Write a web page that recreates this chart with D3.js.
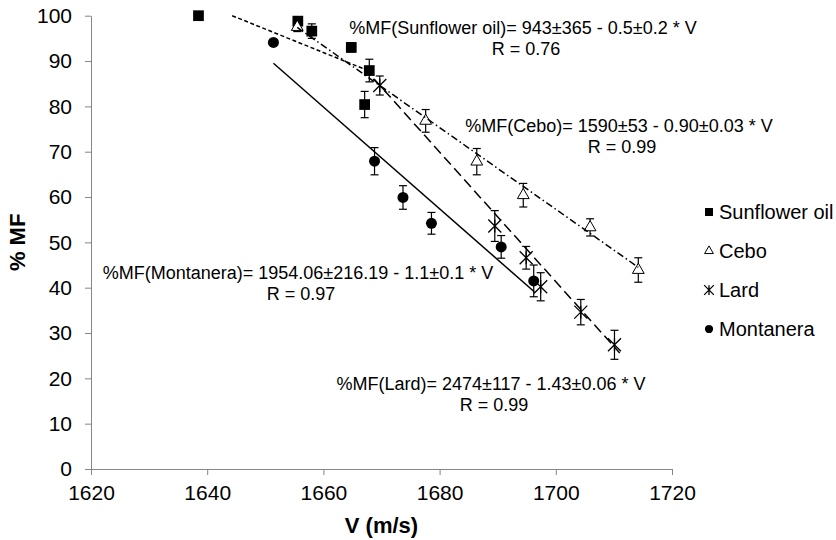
<!doctype html>
<html>
  <head>
    <script src="https://cdnjs.cloudflare.com/ajax/libs/d3/7.8.5/d3.min.js"></script>
    <style>
      body { margin: 0; background: #fff; }
      text { font-family: Arial, "Liberation Sans", sans-serif; fill: #000; }
      .axis path, .axis line { stroke: #868686; stroke-width: 1px; }
      .axis text { font-size: 21px; }
      .note { font-size: 18px; text-anchor: middle; }
      .legend text { font-size: 20px; }
      .title { font-size: 22px; font-weight: bold; text-anchor: middle; }
    </style>
  </head>
  <body>
    <svg width="836" height="540"></svg>
    <script>
      // values
      var seriesNames = ["Sunflower oil", "Cebo", "Lard", "Montanera"];

      var sunflowerV   = [1638.5, 1655.6, 1658.0, 1664.8, 1667.9, 1667.1];
      var sunflowerMF  = [100.0, 98.8, 96.6, 93.0, 87.9, 80.4];
      var sunflowerErr = [0, 1.0, 1.6, 1.0, 2.5, 2.9];

      var ceboV   = [1655.5, 1677.6, 1686.4, 1694.4, 1705.9, 1714.2];
      var ceboMF  = [97.5, 76.8, 67.8, 60.4, 53.3, 43.9];
      var ceboErr = [1.0, 2.5, 2.9, 2.6, 1.9, 2.7];

      var lardV   = [1669.7, 1689.5, 1694.9, 1697.4, 1704.3, 1710.1];
      var lardMF  = [84.6, 53.6, 46.6, 40.2, 34.6, 27.4];
      var lardErr = [2.1, 3.4, 2.5, 3.1, 2.8, 3.2];

      var montaneraV   = [1651.4, 1668.8, 1673.7, 1678.6, 1690.6, 1696.2];
      var montaneraMF  = [94.1, 67.9, 59.9, 54.2, 49.0, 41.5];
      var montaneraErr = [0, 3.0, 2.6, 2.4, 2.5, 3.5];

      // trend line end points [V, MF]
      var sunflowerFit = [[1644.3, 100.0], [1667.5, 88.0]];
      var ceboFit      = [[1655.5, 97.4], [1714.2, 44.5]];
      var lardFit      = [[1667.0, 88.5], [1711.0, 25.6]];
      var montaneraFit = [[1651.4, 89.5], [1696.3, 39.1]];

      var xTicks = [1620, 1640, 1660, 1680, 1700, 1720];
      var yTicks = [0, 10, 20, 30, 40, 50, 60, 70, 80, 90, 100];

      var noteLines = [
        ["%MF(Sunflower oil)= 943±365 - 0.5±0.2 * V", "R = 0.76"],
        ["%MF(Cebo)= 1590±53 - 0.90±0.03 * V", "R = 0.99"],
        ["%MF(Lard)= 2474±117 - 1.43±0.06 * V", "R = 0.99"],
        ["%MF(Montanera)= 1954.06±216.19 - 1.1±0.1 * V", "R = 0.97"]
      ];
      var notePos = [[523, 34], [619, 132], [491, 390], [298, 279]];

      var svg = d3.select("svg");

      var x = d3.scaleLinear().domain([1620, 1720]).range([91, 672]);
      var y = d3.scaleLinear().domain([0, 100]).range([469, 15.7]);

      svg.append("g")
        .attr("class", "axis")
        .attr("transform", "translate(0," + y(0) + ")")
        .call(d3.axisBottom(x).tickValues(xTicks).tickFormat(d3.format("d"))
          .tickSize(6).tickSizeOuter(0).tickPadding(10));

      svg.append("g")
        .attr("class", "axis")
        .attr("transform", "translate(" + x(1620) + ",0)")
        .call(d3.axisLeft(y).tickValues(yTicks).tickFormat(d3.format("d"))
          .tickSize(6).tickSizeOuter(0).tickPadding(13));

      svg.append("text").attr("class", "title")
        .attr("x", (x(1620) + x(1720)) / 2).attr("y", 533)
        .text("V (m/s)");

      svg.append("text").attr("class", "title")
        .attr("transform", "translate(25," + (y(0) + y(100)) / 2 + ") rotate(-90)")
        .text("% MF");

      var series = [
        { v: sunflowerV, mf: sunflowerMF, err: sunflowerErr, fit: sunflowerFit, dash: "4,2.5", mark: "square" },
        { v: ceboV, mf: ceboMF, err: ceboErr, fit: ceboFit, dash: "7,3,1.5,3", mark: "triangle" },
        { v: lardV, mf: lardMF, err: lardErr, fit: lardFit, dash: "10,5", mark: "star" },
        { v: montaneraV, mf: montaneraMF, err: montaneraErr, fit: montaneraFit, dash: null, mark: "circle" }
      ];

      function markPath(kind, s) {
        if (kind === "square") return d3.symbol(d3.symbolSquare, 115 * s * s)();
        if (kind === "circle") return d3.symbol(d3.symbolCircle, 95 * s * s)();
        if (kind === "triangle") return d3.symbol(d3.symbolTriangle, 60 * s * s)();
        var r = 6.5 * s;
        return "M" + -r + "," + -r + "L" + r + "," + r +
               "M" + -r + "," + r + "L" + r + "," + -r +
               "M0," + -r + "L0," + r;
      }

      function styleMark(sel, kind) {
        if (kind === "triangle") sel.attr("fill", "#fff").attr("stroke", "#000").attr("stroke-width", 1);
        else if (kind === "star") sel.attr("fill", "none").attr("stroke", "#000").attr("stroke-width", 1.3);
        else sel.attr("fill", "#000").attr("stroke", "none");
      }

      var line = d3.line().x(d => x(d[0])).y(d => y(d[1]));

      series.forEach(function (s) {
        var pts = s.v.map((v, i) => ({ v: v, mf: s.mf[i], e: s.err[i] }));
        var g = svg.append("g");

        var bars = g.selectAll("g.err").data(pts.filter(d => d.e > 0)).enter()
          .append("g").attr("class", "err")
          .attr("stroke", "#000").attr("stroke-width", 1.2);
        bars.append("line")
          .attr("x1", d => x(d.v)).attr("x2", d => x(d.v))
          .attr("y1", d => y(d.mf - d.e)).attr("y2", d => y(d.mf + d.e));
        bars.append("line")
          .attr("x1", d => x(d.v) - 4).attr("x2", d => x(d.v) + 4)
          .attr("y1", d => y(d.mf + d.e)).attr("y2", d => y(d.mf + d.e));
        bars.append("line")
          .attr("x1", d => x(d.v) - 4).attr("x2", d => x(d.v) + 4)
          .attr("y1", d => y(d.mf - d.e)).attr("y2", d => y(d.mf - d.e));

        g.selectAll("path.mark").data(pts).enter()
          .append("path").attr("class", "mark")
          .attr("d", markPath(s.mark, 1))
          .attr("transform", d => "translate(" + x(d.v) + "," + y(d.mf) + ")")
          .call(styleMark, s.mark);
      });

      series.forEach(function (s) {
        svg.append("path")
          .attr("d", line(s.fit))
          .attr("fill", "none")
          .attr("stroke", "#000")
          .attr("stroke-width", 1.5)
          .attr("stroke-dasharray", s.dash);
      });

      noteLines.forEach(function (lines, i) {
        svg.append("text").attr("class", "note")
          .attr("x", notePos[i][0]).attr("y", notePos[i][1])
          .text(lines[0]);
        svg.append("text").attr("class", "note")
          .attr("x", notePos[i][0] + 3).attr("y", notePos[i][1] + 21)
          .text(lines[1]);
      });

      var legend = svg.append("g").attr("class", "legend")
        .selectAll("g").data(seriesNames).enter()
        .append("g")
          .attr("transform", (d, i) => "translate(709," + (212 + i * 39) + ")");

      legend.append("path")
        .attr("d", (d, i) => markPath(series[i].mark, 0.75))
        .each(function (d, i) { styleMark(d3.select(this), series[i].mark); });

      legend.append("text")
        .attr("x", 10).attr("dy", "0.35em")
        .text(d => d);
    </script>
  </body>
</html>
